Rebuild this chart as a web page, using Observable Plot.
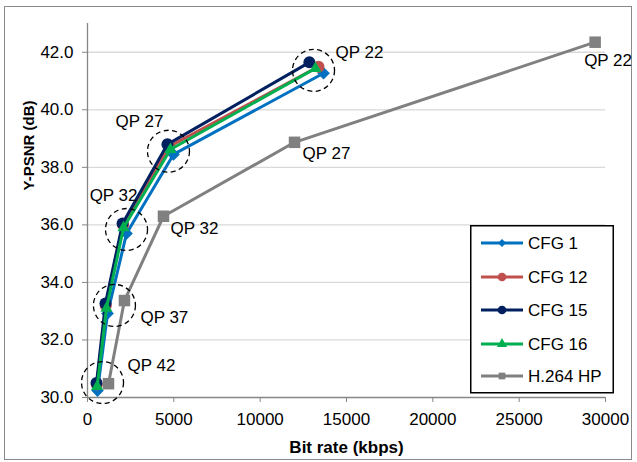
<!DOCTYPE html>
<html>
<head>
<meta charset="utf-8">
<script src="https://cdn.jsdelivr.net/npm/d3@7"></script>
<script src="https://cdn.jsdelivr.net/npm/@observablehq/plot@0.6"></script>
<style>
  body { margin: 0; background: #fff; font-family: "Liberation Sans", Arial, sans-serif; }
  #wrap { position: relative; width: 637px; height: 462px; overflow: hidden; }
  #frame { position: absolute; left: 4px; top: 6px; width: 628px; height: 454px; border: 1.5px solid #8a8a8a; box-sizing: border-box; }
  #wrap > svg, #wrap figure { position: absolute; left: 0; top: 0; margin: 0; }
</style>
</head>
<body>
<div id="wrap"><div id="frame"></div></div>
<script>
// ---- data ----
const qpLabels = ["QP 42", "QP 37", "QP 32", "QP 27", "QP 22"];
const seriesNames = ["CFG 1", "CFG 12", "CFG 15", "CFG 16", "H.264 HP"];
const cfg1Rate  = [580, 1160, 2260, 4980, 13670];
const cfg1Psnr  = [30.24, 32.92, 35.70, 38.45, 41.27];
const cfg12Rate = [540, 1060, 2060, 4720, 13380];
const cfg12Psnr = [30.45, 33.20, 36.00, 38.72, 41.50];
const cfg15Rate = [520, 1040, 2030, 4630, 12850];
const cfg15Psnr = [30.50, 33.27, 36.05, 38.80, 41.65];
const cfg16Rate = [560, 1100, 2085, 4800, 13200];
const cfg16Psnr = [30.38, 33.10, 35.90, 38.62, 41.44];
const h264Rate  = [1215, 2140, 4400, 11990, 29400];
const h264Psnr  = [30.48, 33.37, 36.30, 38.87, 42.35];
// dashed annotation circles around the CFG clusters (data units)
const circleRate = [870, 1560, 2260, 4690, 13090];
const circlePsnr = [30.52, 33.20, 35.84, 38.56, 41.37];
const xTicks = [0, 5000, 10000, 15000, 20000, 25000, 30000];
const yTicks = [30, 32, 34, 36, 38, 40, 42];

// ---- styles ----
const colors = ["#0070C0", "#C0504D", "#002060", "#00B050", "#808080"];
const symbols = ["diamond2", "circle", "circle", "triangle", "square"];
const symR = [5.7, 6, 6, 4.5, 6.5];

const rates = [cfg1Rate, cfg12Rate, cfg15Rate, cfg16Rate, h264Rate];
const psnrs = [cfg1Psnr, cfg12Psnr, cfg15Psnr, cfg16Psnr, h264Psnr];
const series = seriesNames.map((name, i) =>
  rates[i].map((r, j) => ({series: name, rate: r, psnr: psnrs[i][j], qp: qpLabels[j]})));
const circles = circleRate.map((r, j) => ({rate: r, psnr: circlePsnr[j], qp: qpLabels[j]}));

// label placement (pixel offsets), CFG labels relative to circles, H.264 labels relative to points
const cfgLabelPos = [
  {dx: 25, dy: -17, anchor: "start"},
  {dx: 26, dy: 12, anchor: "start"},
  {dx: 11, dy: -34, anchor: "end"},
  {dx: -5, dy: -30, anchor: "end"},
  {dx: 22, dy: -18, anchor: "start"}
];
const h264LabelPos = [null, null,
  {dx: 7, dy: 12, anchor: "start"},
  {dx: 8, dy: 11, anchor: "start"},
  {dx: -11, dy: 18, anchor: "start"}
];

const marks = [
  Plot.gridY(yTicks.slice(1), {stroke: "#d9d9d9", strokeOpacity: 1, strokeWidth: 1.3}),
  Plot.ruleX([0], {stroke: "#868686", strokeWidth: 1.3}),
  Plot.ruleY([30], {stroke: "#868686", strokeWidth: 1.3}),
  Plot.axisY(yTicks, {tickSize: 5, tickPadding: 9, stroke: "#868686", fill: "#000", tickFormat: d => d.toFixed(1), label: null, fontSize: 17}),
  Plot.axisX(xTicks, {tickSize: 5, tickPadding: 10, stroke: "#868686", fill: "#000", tickFormat: d => String(d), label: null, fontSize: 17}),
];
series.forEach((s, i) => {
  marks.push(Plot.line(s, {x: "rate", y: "psnr", stroke: colors[i], strokeWidth: 3}));
  marks.push(Plot.dot(s, {x: "rate", y: "psnr", symbol: symbols[i], r: symR[i], fill: colors[i], stroke: "none"}));
});
marks.push(Plot.dot(circles, {x: "rate", y: "psnr", r: 21, fill: "none", stroke: "#000", strokeWidth: 1.3, strokeDasharray: "5,3.5"}));
circles.forEach((c, j) => {
  const p = cfgLabelPos[j];
  marks.push(Plot.text([c], {x: "rate", y: "psnr", text: "qp", dx: p.dx, dy: p.dy, textAnchor: p.anchor, fontSize: 17, fill: "#000"}));
});
series[4].forEach((d, j) => {
  const p = h264LabelPos[j];
  if (!p) return;
  marks.push(Plot.text([d], {x: "rate", y: "psnr", text: "qp", dx: p.dx, dy: p.dy, textAnchor: p.anchor, fontSize: 17, fill: "#000"}));
});
marks.push(Plot.text(["Y-PSNR (dB)"], {frameAnchor: "left", rotate: -90, dx: -58, dy: -20, fontSize: 15, fontWeight: "bold", fill: "#000"}));
marks.push(Plot.text(["Bit rate (kbps)"], {frameAnchor: "bottom", dy: 55, fontSize: 17, fontWeight: "bold", fill: "#000"}));

const chart = Plot.plot({
  width: 637, height: 462,
  marginLeft: 87, marginRight: 32, marginTop: 23, marginBottom: 65,
  x: {domain: [0, 30000]},
  y: {domain: [30, 43]},
  style: {fontFamily: "'Liberation Sans', Arial, sans-serif", fontSize: "17px", color: "#000", background: "transparent", overflow: "visible"},
  marks
});
document.getElementById("wrap").appendChild(chart);

// ---- legend (inside plot area, right) ----
const lg = d3.select("#wrap").append("svg")
  .style("position", "absolute").style("left", "470px").style("top", "225px")
  .attr("width", 145).attr("height", 170);
lg.append("rect").attr("x", 0.75).attr("y", 0.75).attr("width", 142.5).attr("height", 167)
  .attr("fill", "#fff").attr("stroke", "#000").attr("stroke-width", 1.5);
const rowY = [18, 52, 85, 119, 151];
const legSym = [d3.symbolDiamond2, d3.symbolCircle, d3.symbolCircle, d3.symbolTriangle, d3.symbolSquare];
const legSize = [40, 60, 60, 45, 45];
seriesNames.forEach((name, i) => {
  const g = lg.append("g").attr("transform", `translate(0,${rowY[i]})`);
  g.append("line").attr("x1", 11).attr("x2", 53).attr("y1", 0).attr("y2", 0)
    .attr("stroke", colors[i]).attr("stroke-width", 3);
  g.append("path").attr("d", d3.symbol(legSym[i], legSize[i])()).attr("transform", "translate(32,0)")
    .attr("fill", colors[i]);
  g.append("text").attr("x", 58).attr("y", 0).attr("dy", "0.35em")
    .attr("font-family", "'Liberation Sans', Arial, sans-serif").attr("font-size", 17).attr("fill", "#000")
    .text(name);
});
</script>
</body>
</html>
